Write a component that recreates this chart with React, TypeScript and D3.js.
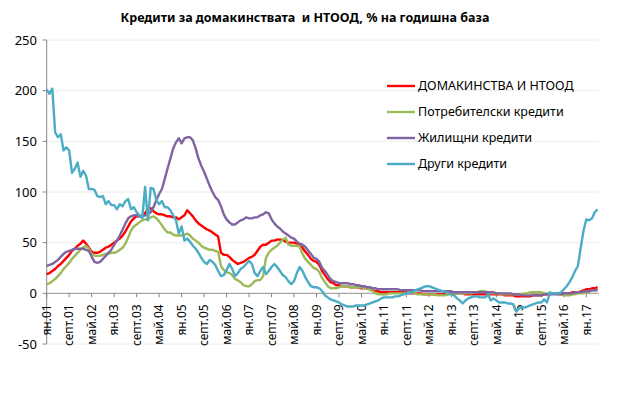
import * as d3 from 'd3';
import React from 'react';

// Кредити за домакинствата и НТООД, % на годишна база – monthly, ян.2001 – май.2017
const title = 'Кредити за домакинствата  и НТООД, % на годишна база';

const tickLabels = [
  'ян.01', 'септ.01', 'май.02', 'ян.03', 'септ.03', 'май.04', 'ян.05', 'септ.05', 'май.06',
  'ян.07', 'септ.07', 'май.08', 'ян.09', 'септ.09', 'май.10', 'ян.11', 'септ.11', 'май.12',
  'ян.13', 'септ.13', 'май.14', 'ян.15', 'септ.15', 'май.16', 'ян.17',
];
const monthsPerTick = 8;

const yTicks = [-50, 0, 50, 100, 150, 200, 250];

const households = [
  19, 20, 22, 24, 27, 29, 32, 35, 38, 42, 44, 47,
  49, 52, 49, 45, 41, 40, 40, 41, 43, 45, 46, 48,
  50, 52, 54, 57, 61, 66, 71, 74, 76, 76, 77, 79,
  83, 84, 81, 79, 78, 78, 77, 76, 76, 75, 75, 73,
  75, 77, 82, 79, 76, 72, 69, 67, 65, 63, 62, 60,
  58, 56, 40, 38, 38, 36, 33, 31, 29, 30, 31, 33,
  35, 36, 38, 42, 46, 48, 48, 50, 52, 52, 53, 53,
  53, 51, 50, 50, 50, 49, 47, 45, 41, 38, 34, 32,
  31, 28, 22, 18, 14, 11, 10, 8, 8, 7, 7, 7,
  6, 6, 6, 6, 5, 5, 5, 4, 3, 2, 2, 1,
  1, 1, 1, 1, 1, 1, 1, 1, 1, 0, 0, 0,
  0, 0, -1, -1, -1, -1, -1, -1, -1, -1, 0, 0,
  0, 0, 0, 0, 0, -1, -1, -1, -1, -1, -1, -1,
  -1, -1, -1, -1, -1, -1, -1, -2, -2, -2, -2, -3,
  -3, -3, -3, -3, -3, -2, -2, -2, -2, -1, -1, -1,
  0, 0, 0, 0, 0, 0, 0, 1, 1, 1, 2, 3,
  4, 4, 5, 5, 6,
];

const consumer = [
  9, 10, 12, 14, 17, 20, 24, 27, 30, 34, 37, 40,
  43, 45, 47, 44, 39, 37, 37, 37, 38, 39, 39, 40,
  40, 41, 43, 45, 49, 55, 62, 66, 68, 70, 72, 73,
  73, 75, 76, 74, 71, 67, 63, 60, 60, 58, 57, 57,
  57, 58, 59, 57, 54, 52, 50, 47, 45, 44, 43, 43,
  42, 41, 27, 23, 21, 20, 18, 14, 13, 11, 8, 7,
  7, 9, 12, 13, 13, 17, 35, 40, 43, 45, 47, 50,
  53, 55, 48, 47, 47, 47, 46, 39, 34, 31, 28, 25,
  24, 21, 15, 11, 7, 5, 5, 5, 6, 7, 7, 7,
  6, 6, 6, 6, 6, 5, 5, 4, 2, 0, -1, -1,
  -1, -1, 0, 0, 0, 0, 0, 0, 0, 1, 1, 0,
  -1, -1, -1, -1, -1, -1, -1, -2, -2, -2, -2, -1,
  -1, -1, 0, 0, 0, 0, 0, 0, 1, 1, 2, 2,
  2, 1, 0, 0, 0, 0, -1, -1, -1, -1, -1, -1,
  -1, -1, 0, 0, 1, 1, 1, 1, 1, 0, 0, 0,
  0, 0, -1, -1, -2, -2, -2, -1, -1, 0, 0, 0,
  1, 2, 3, 3, 4,
];

const housing = [
  27, 28, 29, 31, 33, 36, 39, 41, 42, 43, 44, 44,
  44, 44, 43, 42, 36, 31, 30, 31, 34, 37, 40, 43,
  48, 52, 57, 63, 69, 74, 76, 77, 77, 76, 76, 77,
  78, 80, 85, 92, 98, 103, 113, 123, 133, 143, 149, 153,
  148, 153, 154, 154, 151, 143, 133, 126, 120, 113, 106, 100,
  95, 92, 86, 78, 73, 70, 68, 68, 70, 72, 73, 75,
  74, 74, 75, 75, 77, 78, 80, 79, 73, 69, 66, 64,
  61, 59, 57, 55, 54, 51, 49, 48, 46, 42, 39, 35,
  34, 31, 25, 22, 18, 14, 12, 11, 10, 10, 10, 10,
  9, 9, 8, 8, 7, 7, 6, 6, 5, 5, 4, 4,
  4, 4, 4, 4, 4, 4, 3, 3, 3, 3, 3, 3,
  3, 3, 2, 2, 2, 2, 2, 2, 2, 2, 2, 2,
  2, 1, 1, 1, 1, 1, 1, 1, 1, 1, 1, 1,
  1, 1, 1, 1, 0, 0, 0, 0, 0, 0, -1, -1,
  -1, -2, -2, -2, -2, -2, -2, -2, -2, -1, -1, -1,
  -1, -1, -1, -1, 0, 0, 0, 0, 1, 1, 1, 2,
  2, 2, 3, 3, 3,
];

const other = [
  201, 197, 202, 159, 154, 157, 141, 144, 141, 119, 123, 129,
  115, 121, 116, 103, 103, 102, 96, 95, 96, 88, 91, 87,
  87, 83, 88, 86, 91, 93, 83, 85, 80, 77, 74, 105,
  72, 104, 103, 92, 88, 91, 85, 85, 82, 77, 72, 59,
  66, 52, 54, 51, 47, 44, 40, 35, 31, 29, 33, 31,
  28, 22, 17, 18, 23, 29, 24, 17, 20, 24, 26, 29,
  32, 29, 20, 17, 22, 26, 19, 22, 26, 29, 26, 22,
  18, 16, 12, 9, 12, 20, 26, 22, 16, 11, 7, 6,
  6, 5, 2, -2, -4, -6, -7, -8, -9, -11, -12, -13,
  -13, -13, -12, -12, -12, -12, -11, -10, -9, -8, -7, -5,
  -4, -4, -4, -4, -3, -3, -2, -1, 0, 0, 1, 3,
  4, 5, 6, 7, 7, 6, 5, 4, 3, 2, 1, 0,
  -1, -2, -5, -7, -10, -7, -5, -4, -3, -3, -4, -4,
  -4, -1, -7, -5, -7, -9, -9, -9, -10, -10, -11, -18,
  -15, -14, -14, -13, -12, -11, -10, -9, -9, -6, -9, 1,
  0, 0, 0, 1, 4, 7, 11, 16, 22, 27, 45, 62,
  73, 72, 74, 80, 83,
];

const series = [
  { name: 'ДОМАКИНСТВА И НТООД', values: households, color: '#ff0000' },
  { name: 'Потребителски кредити', values: consumer, color: '#9bbb59' },
  { name: 'Жилищни кредити', values: housing, color: '#8064a2' },
  { name: 'Други кредити', values: other, color: '#4bacc6' },
];

const font = '"Noto Sans", "Open Sans", sans-serif';

export default function App() {
  const width = 630;
  const height = 396;
  const plot = { left: 46.7, right: 599, top: 40, bottom: 344 };

  const x = d3.scaleLinear().domain([0, 196.5]).range([plot.left, plot.right]);
  const y = d3.scaleLinear().domain([-50, 250]).range([plot.bottom, plot.top]);

  const line = d3
    .line<number>()
    .x((_, i) => x(i))
    .y(d => y(d));

  const legendX = 387;
  const legendY = [86, 112, 138, 164];

  return (
    <svg
      width={width}
      height={height}
      style={{ position: 'absolute', left: 0, top: 0, background: '#fff' }}
      fontFamily={font}
    >
      <text
        x={305}
        y={22}
        textAnchor="middle"
        fontSize={12.5}
        fontWeight="bold"
        fill="#000"
        style={{ whiteSpace: 'pre' }}
      >
        {title}
      </text>

      {/* gridlines */}
      {yTicks
        .filter(t => t !== 0)
        .map(t => (
          <line key={t} x1={plot.left} x2={plot.right} y1={y(t)} y2={y(t)} stroke="#ececec" strokeWidth={1} />
        ))}

      {/* y axis */}
      <line x1={plot.left} x2={plot.left} y1={plot.top} y2={plot.bottom} stroke="#868686" />
      {yTicks.map(t => (
        <g key={t}>
          <line x1={plot.left - 4} x2={plot.left} y1={y(t)} y2={y(t)} stroke="#868686" />
          <text x={37} y={y(t)} dy="0.35em" textAnchor="end" fontSize={13} fill="#000">
            {t}
          </text>
        </g>
      ))}

      {/* x axis at zero */}
      <line x1={plot.left} x2={plot.right} y1={y(0)} y2={y(0)} stroke="#a6a6a6" strokeWidth={1.3} />
      {tickLabels.map((lab, i) => {
        const xi = x(i * monthsPerTick);
        return (
          <g key={lab}>
            <line x1={xi} x2={xi} y1={y(0)} y2={y(0) + 4} stroke="#868686" />
            <text
              transform={`translate(${xi},${y(0) + 11}) rotate(-90)`}
              textAnchor="end"
              dy="0.35em"
              fontSize={12}
              fill="#000"
            >
              {lab}
            </text>
          </g>
        );
      })}

      {/* lines */}
      {series.map(s => (
        <path
          key={s.name}
          d={line(s.values) ?? ''}
          fill="none"
          stroke={s.color}
          strokeWidth={2.4}
          strokeLinejoin="round"
        />
      ))}

      {/* legend */}
      {series.map((s, i) => (
        <g key={s.name} transform={`translate(${legendX},${legendY[i]})`}>
          <line x1={0} x2={28} y1={0} y2={0} stroke={s.color} strokeWidth={2.4} />
          <text x={31} y={0} dy="0.35em" fontSize={12.5} fill="#000">
            {s.name}
          </text>
        </g>
      ))}
    </svg>
  );
}
